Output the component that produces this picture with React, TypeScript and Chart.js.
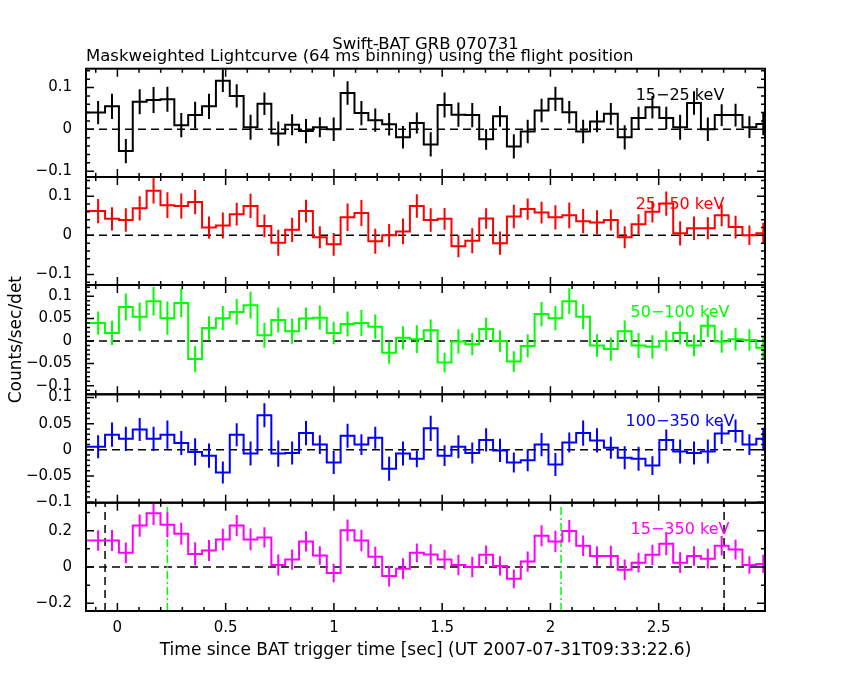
import React, { useEffect, useRef } from 'react';
import { Chart, registerables } from 'chart.js';

Chart.register(...registerables);

// ---------------- data ----------------
const BIN_SIZE = 0.064; // 64 ms binning
const FIRST_BIN_CENTER = -0.153; // s, centre of first (partially visible) bin
const X_MIN = -0.145;
const X_MAX = 2.991;

const TITLE = 'Swift-BAT GRB 070731';
const SUBTITLE = 'Maskweighted Lightcurve (64 ms binning) using the flight position';
const X_TITLE = 'Time since BAT trigger time [sec] (UT 2007-07-31T09:33:22.6)';
const Y_TITLE = 'Counts/sec/det';

const bandLabels = ['15\u221225 keV', '25\u221250 keV', '50\u2212100 keV', '100\u2212350 keV', '15\u2212350 keV'];

const rate15_25 = [
  0.040, 0.040, 0.055, -0.052, 0.066, 0.070, 0.072, 0.010, 0.034, 0.055, 0.116, 0.080, 0.005, 0.061, -0.010, 0.011,
  -0.004, 0.005, 0.000, 0.087, 0.039, 0.022, 0.012, -0.019, 0.015, -0.036, 0.058, 0.035, 0.034, -0.024, 0.031, -0.041,
  -0.005, 0.045, 0.073, 0.041, -0.005, 0.019, 0.037, -0.019, 0.027, 0.053, 0.027, 0.005, 0.063, 0.000, 0.034, 0.034,
  0.005, 0.013,
];
const err15_25 = [
  0.028, 0.028, 0.030, 0.029, 0.030, 0.031, 0.030, 0.029, 0.032, 0.030, 0.027, 0.028, 0.030, 0.027, 0.029, 0.025,
  0.029, 0.024, 0.028, 0.028, 0.029, 0.028, 0.027, 0.027, 0.025, 0.029, 0.030, 0.029, 0.029, 0.025, 0.025, 0.029,
  0.028, 0.028, 0.029, 0.027, 0.028, 0.026, 0.026, 0.029, 0.027, 0.027, 0.027, 0.030, 0.028, 0.028, 0.026, 0.027,
  0.026, 0.027,
];

const rate25_50 = [
  0.062, 0.062, 0.042, 0.039, 0.069, 0.114, 0.077, 0.075, 0.085, 0.020, 0.025, 0.054, 0.075, 0.024, -0.019, 0.014,
  0.062, -0.005, -0.023, 0.046, 0.057, -0.015, 0.000, 0.010, 0.075, 0.039, 0.042, -0.028, -0.014, 0.043, -0.020, 0.048,
  0.067, 0.058, 0.046, 0.051, 0.036, 0.033, 0.039, -0.005, 0.028, 0.060, 0.081, 0.005, 0.018, 0.018, 0.051, 0.021,
  0.000, 0.005,
];
const err25_50 = [
  0.031, 0.031, 0.030, 0.030, 0.031, 0.033, 0.033, 0.032, 0.031, 0.028, 0.033, 0.029, 0.031, 0.029, 0.033, 0.031,
  0.029, 0.028, 0.029, 0.035, 0.033, 0.032, 0.029, 0.033, 0.030, 0.030, 0.028, 0.028, 0.032, 0.026, 0.030, 0.030,
  0.027, 0.028, 0.031, 0.033, 0.031, 0.031, 0.027, 0.028, 0.026, 0.027, 0.031, 0.031, 0.030, 0.028, 0.028, 0.029,
  0.025, 0.027,
];

const rate50_100 = [
  0.040, 0.040, 0.018, 0.076, 0.054, 0.089, 0.051, 0.085, -0.040, 0.029, 0.051, 0.065, 0.080, 0.013, 0.047, 0.022,
  0.050, 0.052, 0.018, 0.038, 0.040, 0.032, -0.026, 0.007, 0.004, 0.024, -0.048, -0.001, -0.007, 0.027, 0.000, -0.046,
  -0.011, 0.060, 0.051, 0.089, 0.054, -0.010, -0.018, 0.022, -0.010, -0.013, 0.000, 0.018, -0.010, 0.034, -0.001, 0.004,
  0.002, -0.015,
];
const err50_100 = [
  0.026, 0.026, 0.027, 0.030, 0.032, 0.032, 0.037, 0.032, 0.029, 0.026, 0.027, 0.029, 0.030, 0.028, 0.028, 0.028,
  0.025, 0.027, 0.025, 0.028, 0.029, 0.027, 0.025, 0.026, 0.031, 0.024, 0.022, 0.027, 0.025, 0.025, 0.024, 0.023,
  0.026, 0.027, 0.027, 0.029, 0.028, 0.025, 0.026, 0.024, 0.028, 0.026, 0.023, 0.026, 0.024, 0.025, 0.025, 0.025,
  0.024, 0.025,
];

const rate100_350 = [
  0.006, 0.006, 0.029, 0.021, 0.039, 0.021, 0.029, 0.013, -0.004, -0.011, -0.043, 0.029, -0.007, 0.066, -0.007, -0.006,
  0.032, 0.010, -0.024, 0.027, 0.010, 0.023, -0.036, -0.007, -0.017, 0.041, -0.011, 0.006, -0.006, 0.019, -0.001, -0.024,
  -0.020, 0.010, -0.028, 0.014, 0.032, 0.018, 0.004, -0.015, -0.017, -0.030, 0.019, -0.003, -0.006, -0.003, 0.031, 0.036,
  0.010, 0.021,
];
const err100_350 = [
  0.022, 0.022, 0.023, 0.023, 0.022, 0.023, 0.027, 0.023, 0.026, 0.023, 0.021, 0.022, 0.023, 0.023, 0.025, 0.022,
  0.023, 0.018, 0.022, 0.023, 0.020, 0.021, 0.023, 0.023, 0.016, 0.024, 0.020, 0.022, 0.020, 0.022, 0.022, 0.019,
  0.021, 0.022, 0.022, 0.019, 0.024, 0.023, 0.021, 0.022, 0.023, 0.018, 0.020, 0.023, 0.022, 0.023, 0.020, 0.022,
  0.020, 0.021,
];

const rate15_350 = [
  0.146, 0.146, 0.146, 0.078, 0.228, 0.296, 0.233, 0.183, 0.072, 0.091, 0.152, 0.228, 0.152, 0.163, 0.011, 0.041,
  0.141, 0.063, -0.033, 0.202, 0.146, 0.056, -0.050, -0.009, 0.078, 0.069, 0.041, 0.011, 0.000, 0.067, 0.006, -0.065,
  0.030, 0.172, 0.141, 0.198, 0.117, 0.061, 0.061, -0.015, 0.024, 0.067, 0.128, 0.024, 0.061, 0.046, 0.117, 0.096,
  0.011, 0.017,
];
const err15_350 = [
  0.057, 0.057, 0.058, 0.057, 0.061, 0.065, 0.069, 0.061, 0.064, 0.058, 0.059, 0.058, 0.060, 0.056, 0.058, 0.056,
  0.056, 0.051, 0.051, 0.060, 0.059, 0.056, 0.057, 0.057, 0.052, 0.056, 0.054, 0.056, 0.056, 0.051, 0.053, 0.052,
  0.056, 0.058, 0.058, 0.061, 0.057, 0.054, 0.056, 0.056, 0.054, 0.056, 0.063, 0.057, 0.054, 0.054, 0.054, 0.054,
  0.048, 0.050,
];

// vertical markers in the summed panel (s)
const blackDashedTimes = [-0.057, 2.802];
const greenDashDotTimes = [0.231, 2.049];

// ---------------- layout / style ----------------
const W = 850;
const H = 680;
const PLOT_LEFT = 86;
const PLOT_RIGHT = 765;
const FONT = "'DejaVu Sans', 'Liberation Sans', sans-serif";

type Panel = {
  label: string;
  color: string;
  rates: number[];
  errs: number[];
  yMin: number;
  yMax: number;
  major: number;
  minor: number;
  top: number;
  bottom: number;
};

const panels: Panel[] = [
  { label: bandLabels[0], color: '#000000', rates: rate15_25, errs: err15_25, yMin: -0.114, yMax: 0.145, major: 0.1, minor: 0.02, top: 68.7, bottom: 177 },
  { label: bandLabels[1], color: '#ff0000', rates: rate25_50, errs: err25_50, yMin: -0.127, yMax: 0.149, major: 0.1, minor: 0.02, top: 177, bottom: 285 },
  { label: bandLabels[2], color: '#00ff00', rates: rate50_100, errs: err50_100, yMin: -0.119, yMax: 0.125, major: 0.05, minor: 0.01, top: 285, bottom: 394.3 },
  { label: bandLabels[3], color: '#0000ff', rates: rate100_350, errs: err100_350, yMin: -0.1008, yMax: 0.106, major: 0.05, minor: 0.01, top: 394.3, bottom: 502.7 },
  { label: bandLabels[4], color: '#ff00ff', rates: rate15_350, errs: err15_350, yMin: -0.242, yMax: 0.354, major: 0.2, minor: 0.1, top: 502.7, bottom: 611 },
];

const binCenters = rate15_25.map((_, k) => FIRST_BIN_CENTER + k * BIN_SIZE);

const fmt = (v: number) => {
  const r = Math.round(v * 1000) / 1000;
  return String(r === 0 ? 0 : r).replace('-', '\u2212');
};

const panelPlugin = {
  id: 'panelDecor',
  beforeDatasetsDraw(chart: any, _args: any, opts: any) {
    const { ctx, chartArea: a, scales } = chart;
    const y = scales.y;
    const x = scales.x;
    ctx.save();
    ctx.beginPath();
    ctx.rect(a.left, a.top, a.right - a.left, a.bottom - a.top);
    ctx.clip();
    // zero line
    ctx.strokeStyle = '#000';
    ctx.lineWidth = 1.5;
    ctx.setLineDash([8, 5]);
    const y0 = y.getPixelForValue(0);
    ctx.beginPath();
    ctx.moveTo(a.left, y0);
    ctx.lineTo(a.right, y0);
    ctx.stroke();
    if (opts.markers) {
      ctx.setLineDash([8, 5]);
      ctx.strokeStyle = '#000';
      for (const t of blackDashedTimes) {
        const px = x.getPixelForValue(t);
        ctx.beginPath();
        ctx.moveTo(px, a.bottom);
        ctx.lineTo(px, a.top);
        ctx.stroke();
      }
      ctx.setLineDash([8, 3, 2, 3]);
      ctx.strokeStyle = '#00ff00';
      for (const t of greenDashDotTimes) {
        const px = x.getPixelForValue(t);
        ctx.beginPath();
        ctx.moveTo(px, a.bottom);
        ctx.lineTo(px, a.top);
        ctx.stroke();
      }
    }
    ctx.restore();
  },
  afterDatasetsDraw(chart: any, _args: any, opts: any) {
    const { ctx, chartArea: a, scales } = chart;
    const x = scales.x;
    const y = scales.y;
    const p: Panel = opts.panel;
    ctx.save();
    // error bars
    ctx.save();
    ctx.beginPath();
    ctx.rect(a.left, a.top, a.right - a.left, a.bottom - a.top);
    ctx.clip();
    ctx.strokeStyle = p.color;
    ctx.lineWidth = 2;
    ctx.setLineDash([]);
    ctx.beginPath();
    binCenters.forEach((t, k) => {
      const px = x.getPixelForValue(t);
      ctx.moveTo(px, y.getPixelForValue(p.rates[k] - p.errs[k]));
      ctx.lineTo(px, y.getPixelForValue(p.rates[k] + p.errs[k]));
    });
    ctx.stroke();
    ctx.restore();

    // frame
    ctx.strokeStyle = '#000';
    ctx.lineWidth = 2;
    ctx.setLineDash([]);
    ctx.strokeRect(a.left, a.top, a.right - a.left, a.bottom - a.top);

    // x ticks
    ctx.lineWidth = 1.5;
    ctx.beginPath();
    for (let i = Math.ceil(X_MIN / 0.1); i * 0.1 <= X_MAX; i++) {
      const px = x.getPixelForValue(i * 0.1);
      const len = i % 5 === 0 ? 8 : 4;
      ctx.moveTo(px, a.bottom);
      ctx.lineTo(px, a.bottom - len);
      ctx.moveTo(px, a.top);
      ctx.lineTo(px, a.top + len);
    }
    // y ticks
    for (let j = Math.ceil(p.yMin / p.minor - 1e-6); j * p.minor <= p.yMax + 1e-9; j++) {
      const v = j * p.minor;
      const py = y.getPixelForValue(v);
      const q = v / p.major;
      const len = Math.abs(q - Math.round(q)) < 1e-6 ? 8 : 4;
      ctx.moveTo(a.left, py);
      ctx.lineTo(a.left + len, py);
      ctx.moveTo(a.right, py);
      ctx.lineTo(a.right - len, py);
    }
    ctx.stroke();

    // band label
    ctx.fillStyle = p.color;
    ctx.font = `16px ${FONT}`;
    ctx.textAlign = 'center';
    ctx.textBaseline = 'middle';
    ctx.fillText(p.label, a.right - 85, a.top + 27.5);
    ctx.restore();
  },
};

function makeConfig(i: number): any {
  const p = panels[i];
  const isFirst = i === 0;
  const isLast = i === panels.length - 1;
  return {
    type: 'line',
    data: {
      datasets: [
        {
          data: binCenters.map((t, k) => ({ x: t, y: p.rates[k] })),
          borderColor: p.color,
          borderWidth: 2,
          pointRadius: 0,
          stepped: 'middle',
          fill: false,
          clip: 0,
        },
      ],
    },
    options: {
      animation: false,
      responsive: false,
      events: [],
      layout: {
        padding: {
          top: isFirst ? 0 : p.top,
          bottom: isLast ? 0 : H - p.bottom,
          left: 0,
          right: W - PLOT_RIGHT,
        },
      },
      plugins: {
        legend: { display: false },
        tooltip: { enabled: false },
        title: isFirst
          ? {
              display: true,
              text: TITLE,
              fullSize: false,
              align: 'center',
              color: '#000',
              font: { family: FONT, size: 16.5, weight: 'normal', lineHeight: '12px' },
              padding: { top: 38.5, bottom: 0 },
            }
          : { display: false },
        subtitle: isFirst
          ? {
              display: true,
              text: SUBTITLE,
              fullSize: false,
              align: 'start',
              color: '#000',
              font: { family: FONT, size: 16.5, weight: 'normal', lineHeight: '12px' },
              padding: { top: 0.5, bottom: 5.7 },
            }
          : { display: false },
        panelDecor: { panel: p, markers: isLast },
      },
      scales: {
        x: {
          type: 'linear',
          min: X_MIN,
          max: X_MAX,
          display: isLast,
          afterFit: (s: any) => {
            s.height = isLast ? H - p.bottom : 0;
          },
          grid: { display: false, drawTicks: false },
          border: { display: false },
          ticks: {
            stepSize: 0.5,
            includeBounds: false,
            autoSkip: false,
            maxRotation: 0,
            padding: 8,
            color: '#000',
            font: { family: FONT, size: 15 },
            callback: (v: number) => fmt(v),
          },
          title: {
            display: isLast,
            text: X_TITLE,
            color: '#000',
            font: { family: FONT, size: 17 },
            padding: { top: 0, bottom: 19 },
          },
        },
        y: {
          type: 'linear',
          min: p.yMin,
          max: p.yMax,
          afterFit: (s: any) => {
            s.width = PLOT_LEFT;
          },
          grid: { display: false, drawTicks: false },
          border: { display: false },
          ticks: {
            stepSize: p.major,
            includeBounds: false,
            autoSkip: false,
            padding: 14,
            color: '#000',
            font: { family: FONT, size: 15 },
            callback: (v: number) => fmt(v),
          },
          title: {
            display: i === 2,
            text: Y_TITLE,
            color: '#000',
            font: { family: FONT, size: 17 },
            padding: { top: 6.8, bottom: 0 },
          },
        },
      },
    },
    plugins: [panelPlugin],
  };
}

export default function App() {
  const refs = useRef<(HTMLCanvasElement | null)[]>([]);
  useEffect(() => {
    Chart.defaults.color = '#000';
    Chart.defaults.font.family = FONT;
    const charts = panels.map((_, i) => {
      const c = refs.current[i] as HTMLCanvasElement;
      return new Chart(c, makeConfig(i));
    });
    return () => charts.forEach((ch) => ch.destroy());
  }, []);
  return (
    <div style={{ position: 'absolute', left: 0, top: 0, width: W, height: H, background: '#fff' }}>
      {panels.map((_, i) => (
        <canvas
          key={i}
          ref={(el) => {
            refs.current[i] = el;
          }}
          width={W}
          height={H}
          style={{ position: 'absolute', left: 0, top: 0, width: W, height: H }}
        />
      ))}
    </div>
  );
}
